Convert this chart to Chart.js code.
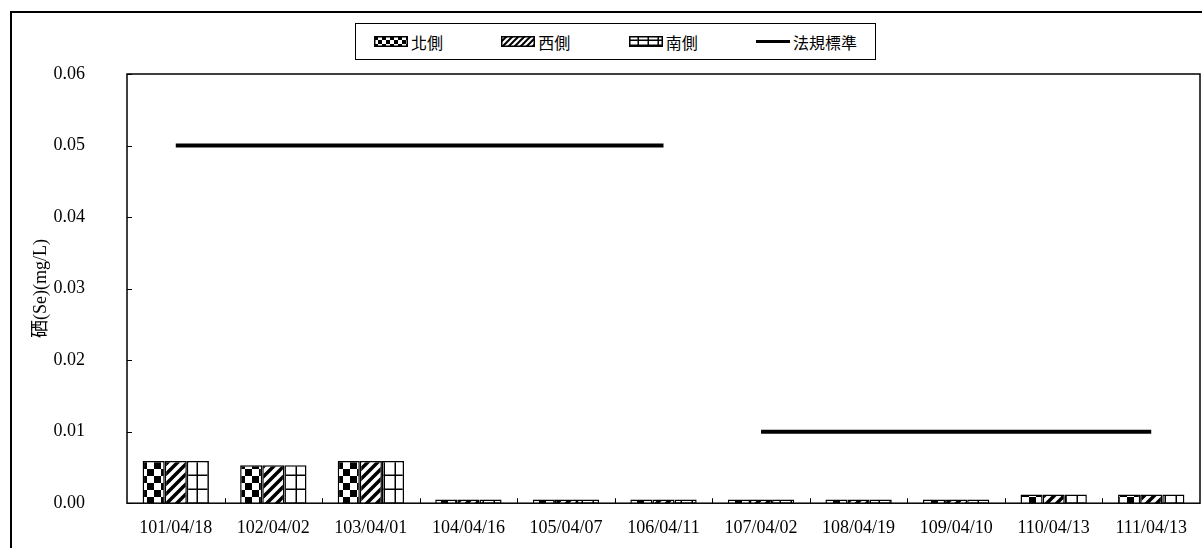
<!DOCTYPE html>
<html>
<head>
<meta charset="utf-8">
<script src="https://cdn.jsdelivr.net/npm/chart.js@4/dist/chart.umd.min.js"></script>
<style>
  body { margin: 0; background: #fff; width: 1202px; height: 548px; overflow: hidden; position: relative; }
  #frame { position: absolute; left: 10px; top: 11px; width: 1300px; height: 700px; border-left: 2px solid #000; border-top: 2px solid #000; }
  #chart { position: absolute; left: 0; top: 0; }
  #legend { position: absolute; left: 355px; top: 23px; width: 521px; height: 37px; border: 1.5px solid #000; background: #fff;
            display: flex; align-items: center; justify-content: space-between; padding: 0 18px; box-sizing: border-box;
            font-family: 'Noto Sans CJK TC', sans-serif; font-size: 16px; color: #000; }
  .item { display: flex; align-items: center; }
  .item canvas { margin-right: 3px; }
</style>
</head>
<body>
<div id="frame"></div>
<canvas id="chart" width="1202" height="548"></canvas>
<div id="legend"></div>
<script>
const labels = ['101/04/18', '102/04/02', '103/04/01', '104/04/16', '105/04/07', '106/04/11',
                '107/04/02', '108/04/19', '109/04/10', '110/04/13', '111/04/13'];
const seriesNames = ['北側', '西側', '南側', '法規標準'];
const north = [0.0059, 0.0053, 0.0059, 0.0005, 0.0005, 0.0005, 0.0005, 0.0005, 0.0005, 0.0012, 0.0012];
const west  = [0.0059, 0.0053, 0.0059, 0.0005, 0.0005, 0.0005, 0.0005, 0.0005, 0.0005, 0.0012, 0.0012];
const south = [0.0059, 0.0053, 0.0059, 0.0005, 0.0005, 0.0005, 0.0005, 0.0005, 0.0005, 0.0012, 0.0012];
const standard = [0.05, 0.05, 0.05, 0.05, 0.05, 0.05, 0.01, 0.01, 0.01, 0.01, 0.01];
const yMax = 0.06;
const yStep = 0.01;

// fill patterns like the old excel ones
function checker(s) {
    const c = document.createElement('canvas');
    c.width = s * 2; c.height = s * 2;
    const g = c.getContext('2d');
    g.fillStyle = '#fff'; g.fillRect(0, 0, s * 2, s * 2);
    g.fillStyle = '#000';
    g.fillRect(0, 0, s, s);
    g.fillRect(s, s, s, s);
    return g.createPattern(c, 'repeat');
}

function hatch(s, w) {
    const c = document.createElement('canvas');
    c.width = s; c.height = s;
    const g = c.getContext('2d');
    g.fillStyle = '#fff'; g.fillRect(0, 0, s, s);
    g.strokeStyle = '#000'; g.lineWidth = w;
    g.beginPath();
    g.moveTo(-s / 2, s / 2); g.lineTo(s / 2, -s / 2);
    g.moveTo(0, s); g.lineTo(s, 0);
    g.moveTo(s / 2, s * 1.5); g.lineTo(s * 1.5, s / 2);
    g.stroke();
    return g.createPattern(c, 'repeat');
}

function grid(w, h) {
    const c = document.createElement('canvas');
    c.width = w; c.height = h;
    const g = c.getContext('2d');
    g.fillStyle = '#fff'; g.fillRect(0, 0, w, h);
    g.fillStyle = '#000';
    g.fillRect(w - 1.5, 0, 1.5, h);
    g.fillRect(0, h - 1.5, w, 1.5);
    return g.createPattern(c, 'repeat');
}

const fills = [checker(7), hatch(10, 3.5), grid(11, 14)];
const legendFills = [checker(4), hatch(6, 2), grid(10, 5)];

// legend box
const legend = document.getElementById('legend');
seriesNames.forEach((name, i) => {
    const item = document.createElement('div');
    item.className = 'item';
    const sw = document.createElement('canvas');
    sw.width = 34; sw.height = 11;
    const g = sw.getContext('2d');
    if (i < 3) {
        g.fillStyle = legendFills[i];
        g.fillRect(0, 0, 34, 11);
        g.strokeStyle = '#000'; g.lineWidth = 1.5;
        g.strokeRect(0.75, 0.75, 32.5, 9.5);
    } else {
        g.fillStyle = '#000';
        g.fillRect(0, 4, 34, 3);
    }
    const txt = document.createElement('span');
    txt.textContent = name;
    item.appendChild(sw);
    item.appendChild(txt);
    legend.appendChild(item);
});

const axisFont = { family: "'Liberation Serif', 'Noto Sans CJK TC', serif", size: 18 };

const frameLines = {
    id: 'frameLines',
    afterDraw(chart) {
        const { ctx, chartArea: a, scales: { x, y } } = chart;
        ctx.save();
        ctx.strokeStyle = '#000';
        ctx.lineWidth = 1.5;
        ctx.strokeRect(a.left, a.top, a.right - a.left, a.bottom - a.top);
        ctx.lineWidth = 1;
        ctx.beginPath();
        y.ticks.forEach(t => {
            const py = Math.round(y.getPixelForValue(t.value)) + 0.5;
            ctx.moveTo(a.left, py); ctx.lineTo(a.left + 5, py);
        });
        for (let i = 1; i < labels.length; i++) {
            const px = Math.round((x.getPixelForValue(i - 1) + x.getPixelForValue(i)) / 2) + 0.5;
            ctx.moveTo(px, a.bottom); ctx.lineTo(px, a.bottom - 5);
        }
        ctx.stroke();
        ctx.restore();
    }
};

const barSet = (name, data, i) => ({
    label: name,
    data: data,
    backgroundColor: fills[i],
    borderColor: '#000',
    borderWidth: 1.5,
    categoryPercentage: 0.68,
    barPercentage: 1.0,
    order: 1
});

new Chart(document.getElementById('chart'), {
    type: 'bar',
    data: {
        labels: labels,
        datasets: [
            barSet(seriesNames[0], north, 0),
            barSet(seriesNames[1], west, 1),
            barSet(seriesNames[2], south, 2),
            {
                type: 'line',
                label: seriesNames[3],
                data: standard,
                borderColor: '#000',
                borderWidth: 4,
                pointRadius: 0,
                tension: 0,
                order: 0,
                segment: {
                    borderColor: c => c.p0.parsed.y !== c.p1.parsed.y ? 'rgba(0,0,0,0)' : '#000'
                }
            }
        ]
    },
    options: {
        responsive: false,
        animation: false,
        devicePixelRatio: 1,
        layout: { padding: { top: 74, right: 2, left: 0, bottom: 0 } },
        plugins: {
            legend: { display: false },
            tooltip: { enabled: false }
        },
        scales: {
            x: {
                grid: { display: false },
                border: { display: false },
                ticks: { font: axisFont, color: '#000', padding: 6, maxRotation: 0, autoSkip: false },
                afterFit(s) { s.height = 38; }
            },
            y: {
                min: 0,
                max: yMax,
                grid: { display: false },
                border: { display: false },
                ticks: {
                    stepSize: yStep,
                    font: axisFont,
                    color: '#000',
                    padding: 34,
                    callback: v => v.toFixed(2)
                },
                title: {
                    display: true,
                    text: '硒(Se)(mg/L)',
                    color: '#000',
                    font: { family: "'Liberation Serif', 'Noto Sans CJK TC', serif", size: 18 },
                    padding: { top: 30, bottom: 0 }
                },
                afterFit(s) { s.width = 127; }
            }
        }
    },
    plugins: [frameLines]
});
</script>
</body>
</html>
